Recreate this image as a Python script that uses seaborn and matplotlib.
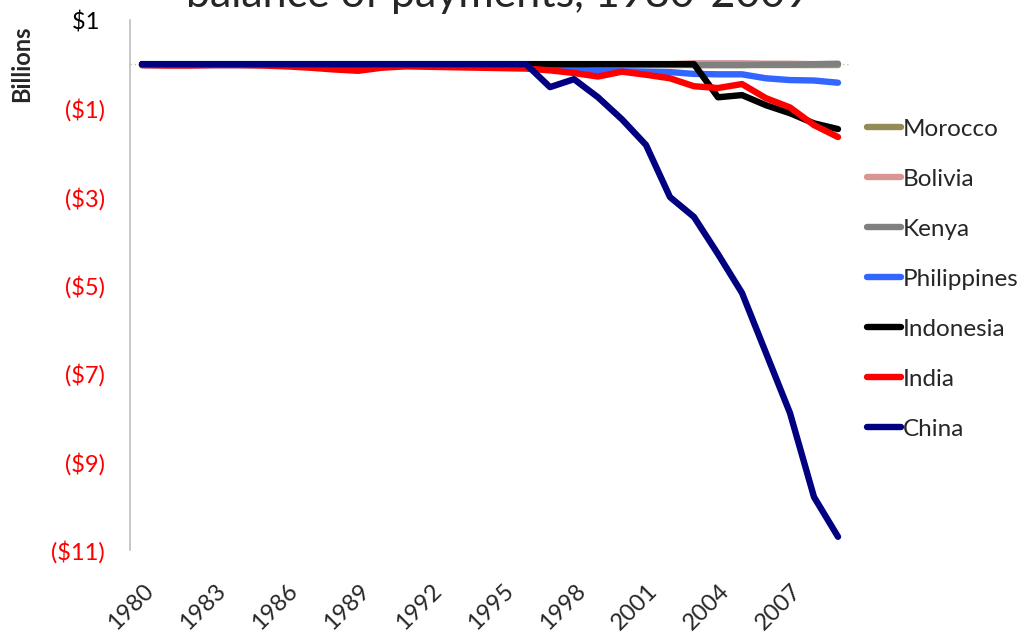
import numpy as np
import pandas as pd
import seaborn as sns
import matplotlib.pyplot as plt
from matplotlib.transforms import ScaledTranslation

# Values (billions of US$), 1980-2009
years = list(range(1980, 2010))

morocco = [-0.03] * 30
bolivia = [0.0] * 23 + [0.02, 0.02, 0.02, 0.01, 0.01, 0.0, 0.0]
kenya = [0.0] * 23 + [-0.02, -0.02, -0.02, -0.01, -0.01, 0.0, 0.01]
philippines = [-0.02, -0.02, -0.02, -0.02, -0.02, -0.02, -0.02, -0.02,
               -0.02, -0.02, -0.02, -0.02, -0.02, -0.03, -0.04, -0.06,
               -0.08, -0.10, -0.12, -0.15, -0.16, -0.17, -0.18, -0.22,
               -0.23, -0.23, -0.32, -0.36, -0.37, -0.42]
indonesia = [0.0] * 24 + [-0.75, -0.70, -0.93, -1.11, -1.34, -1.47]
india = [-0.02, -0.03, -0.03, -0.02, -0.02, -0.03, -0.05, -0.08,
         -0.12, -0.15, -0.08, -0.05, -0.06, -0.07, -0.08, -0.09,
         -0.10, -0.14, -0.20, -0.28, -0.17, -0.24, -0.32, -0.50,
         -0.54, -0.45, -0.77, -0.98, -1.38, -1.65]
china = [0.0] * 17 + [-0.52, -0.34, -0.75, -1.25, -1.83, -3.01, -3.46,
                      -4.30, -5.18, -6.54, -7.90, -9.80, -10.70]

countries = ["Morocco", "Bolivia", "Kenya", "Philippines", "Indonesia", "India", "China"]
series = [morocco, bolivia, kenya, philippines, indonesia, india, china]
colors = ["#948A54", "#D99694", "#808080", "#3366FF", "#000000", "#FF0000", "#000080"]

y_ticks = [1, -1, -3, -5, -7, -9, -11]

df = pd.DataFrame({
    "year": years * len(countries),
    "country": np.repeat(countries, len(years)),
    "value": np.concatenate(series),
})

sns.set_style("white")
plt.rcParams["font.family"] = ["Lato", "DejaVu Sans"]

fig = plt.figure(figsize=(10.25, 6.35), dpi=100)
ax = fig.add_axes([130 / 1025, 1 - 550 / 635, 720 / 1025, 530 / 635])

ax.axhline(0, color="#BFBFBF", lw=1, ls=(0, (1, 2)), zorder=0)

sns.lineplot(data=df, x="year", y="value", hue="country", hue_order=countries,
             palette=dict(zip(countries, colors)), lw=4.6, ax=ax,
             legend=True, solid_capstyle="round")

ax.set_xlim(1979.5, 2009.5)
ax.set_ylim(-11, 1)
ax.set_xticks(years[::3])
ax.set_yticks(y_ticks)
ax.set_yticklabels([f"${v} " if v > 0 else f"(${-v})" for v in y_ticks])
for lab, v in zip(ax.get_yticklabels(), y_ticks):
    lab.set_color("black" if v > 0 else "red")

ax.tick_params(axis="y", length=0, pad=18, labelsize=17)
ax.tick_params(axis="x", length=0, pad=27, labelsize=17)
offset = ScaledTranslation(8 / 100, 0, fig.dpi_scale_trans)
for lab in ax.get_xticklabels():
    lab.set_rotation(45)
    lab.set_ha("right")
    lab.set_va("center")
    lab.set_rotation_mode("anchor")
    lab.set_transform(lab.get_transform() + offset)

ax.set_xlabel("")
ax.set_ylabel("")
for side in ["top", "right", "bottom"]:
    ax.spines[side].set_visible(False)
ax.spines["left"].set_color("#BFBFBF")
ax.spines["left"].set_linewidth(1.2)

handles, labels = ax.get_legend_handles_labels()
ax.get_legend().remove()
for h in handles:
    h.set_linewidth(4.6)
fig.legend(handles, labels, loc="upper left", bbox_to_anchor=(0.836, 0.828),
           frameon=False, fontsize=17.5, handlelength=1.4, handletextpad=0.1,
           labelspacing=1.19, borderaxespad=0)

fig.text(22 / 1025, 1 - 64 / 635, "Billions", rotation=90, ha="center",
         va="center", fontsize=17, fontweight="bold")
fig.text(498 / 1025, 1 - 7 / 635, "balance of payments, 1980-2009",
         ha="center", va="baseline", fontsize=31)

fig.savefig("out.png", dpi=100)
plt.close(fig)
